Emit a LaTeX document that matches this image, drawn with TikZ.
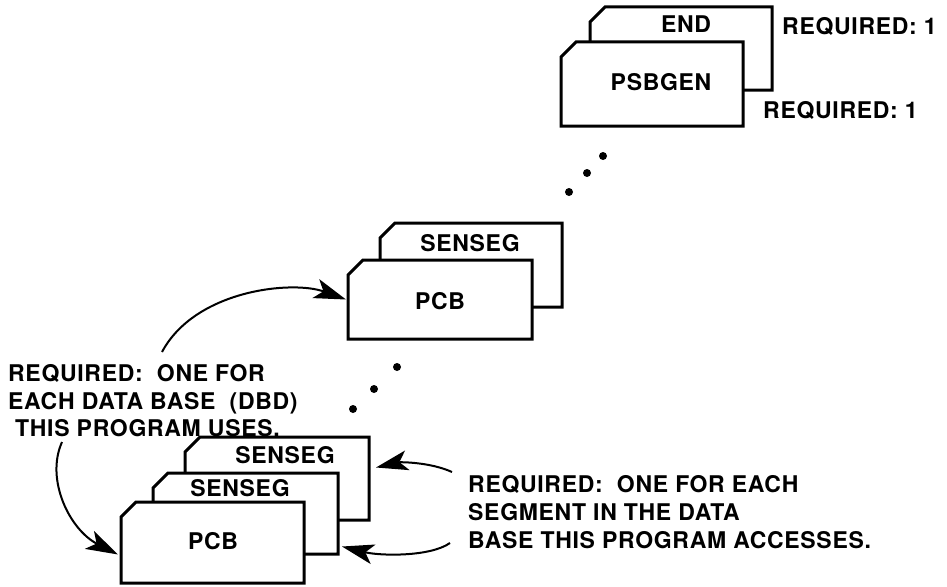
\documentclass[tikz,border=0pt]{standalone}
\usepackage{fontspec}
\setmainfont{TeX Gyre Heros}[LetterSpace=3]
\usetikzlibrary{arrows.meta}
\tikzset{bighead/.tip={Stealth[length=32pt,width=20pt,inset=8pt]}}
\newcommand\drawcard[5]{%
  \node[cardbox, minimum width=#4pt, minimum height=#5pt] (#1) at (#2,#3) {};
  \filldraw[cardline] ([yshift=-15pt]#1.north west) -- ([xshift=15pt]#1.north west)
     -- (#1.north east) -- (#1.south east) -- (#1.south west) -- cycle;}
\begin{document}
\begin{tikzpicture}[x=1pt,y=-1pt,
  cardbox/.style={draw=none, inner sep=0pt, outer sep=0pt, anchor=north west},
  cardline/.style={draw=black, fill=white, line width=3pt, line join=miter},
  lab/.style={font=\fontsize{23}{28}\selectfont\bfseries, inner sep=0pt},
  note/.style={lab, anchor=base west},
  callout/.style={line width=2pt, arrows={-bighead}},
  dotmark/.style={fill=black}]
\fill[white] (0,0) rectangle (947,586);
\useasboundingbox (0,0) rectangle (947,586);

% top group
\drawcard{endc}{590}{7}{182}{83}
\drawcard{psb}{561}{42}{182}{84}
\node[lab] (tEnd) at (686,24) {END};
\node[lab] (tPsb) at (661,82) {PSBGEN};
\node[note] (req1) at (782,35) {REQUIRED: 1};
\node[note] (req2) at (763,118) {REQUIRED: 1};

% middle group
\drawcard{senM}{380}{223}{182}{84}
\drawcard{pcbM}{348}{260}{184}{79}
\node[lab] (tSenM) at (470,243) {SENSEG};
\node[lab] (tPcbM) at (440,301) {PCB};

% bottom group
\drawcard{senA}{185}{437}{184}{83}
\drawcard{senB}{153}{473}{185}{81}
\drawcard{pcbB}{121}{502}{183}{81}
\node[lab] (tSenA) at (285,455) {SENSEG};
\node[lab] (tSenB) at (240,488) {SENSEG};
\node[lab] (tPcbB) at (213,541) {PCB};

% dots
\fill[dotmark] (603,156) circle (4pt);
\fill[dotmark] (587,173) circle (4pt);
\fill[dotmark] (569,192) circle (4pt);
\fill[dotmark] (397,367) circle (4pt);
\fill[dotmark] (374,389) circle (4pt);
\fill[dotmark] (353,409) circle (4pt);

% left note
\node[note] (l1) at (8,381) {REQUIRED:\ \ ONE FOR};
\node[note] (l2) at (8,409) {EACH DATA BASE\ \ (DBD)};
\node[note] (l3) at (15,436) {THIS PROGRAM USES.};

% right note
\node[note] (r1) at (468,492) {REQUIRED:\ \ ONE FOR EACH};
\node[note] (r2) at (468,520) {SEGMENT IN THE DATA};
\node[note] (r3) at (468,548) {BASE THIS PROGRAM ACCESSES.};

% callouts
\coordinate (a1) at (162,352);
\coordinate (a2) at (62,442);
\coordinate (a3) at (452,472);
\coordinate (a4) at (450,543);
\draw[callout] (a1) .. controls (195,290) and (292,280) .. ([xshift=-2pt]pcbM.west);
\draw[callout] (a2) .. controls (45,480) and (70,530) .. ([xshift=-3pt,yshift=-12pt]pcbB.west);
\draw[callout] (a3) .. controls (430,462) and (400,462) .. ([xshift=7pt,yshift=11pt]senA.east);
\draw[callout] (a4) .. controls (430,557) and (380,556) .. ([xshift=4pt,yshift=-33pt]senB.east);
\end{tikzpicture}
\end{document}
